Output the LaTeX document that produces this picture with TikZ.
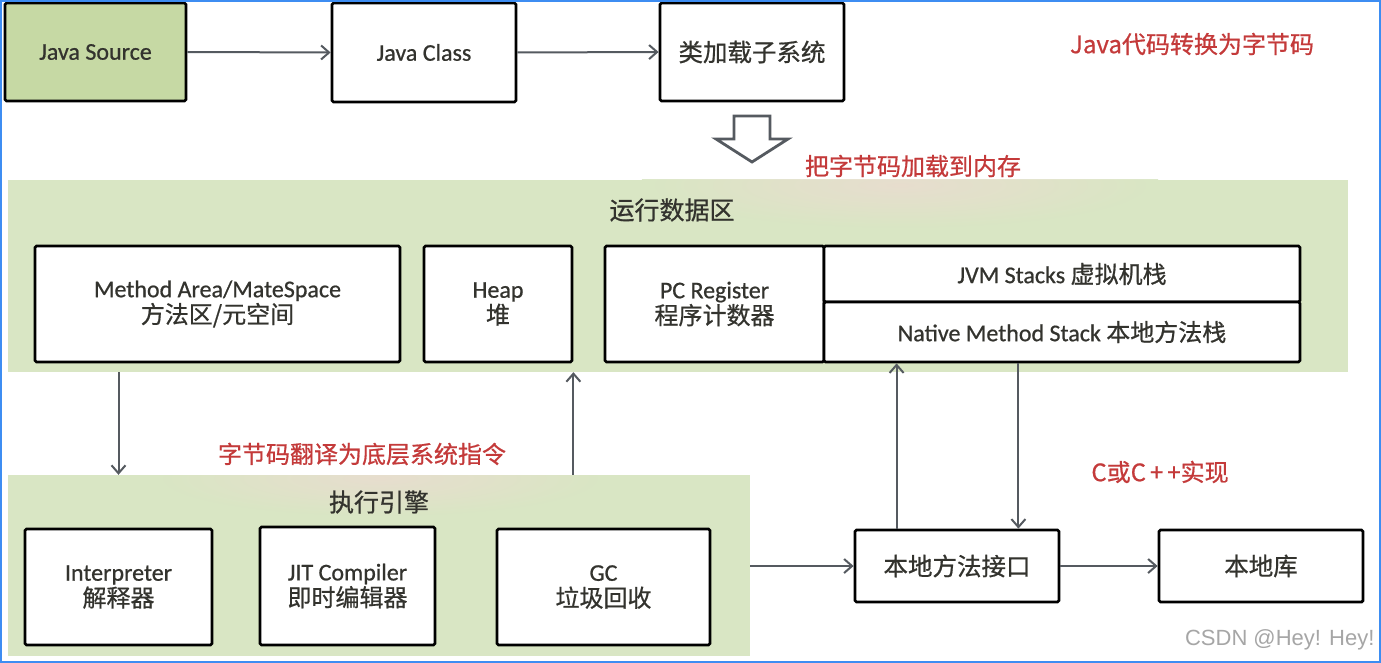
\documentclass[tikz,border=0pt]{standalone}
\usepackage{fontspec}
\setmainfont[FakeBold=0.7]{Carlito}
\newfontfamily\cjk[FakeBold=0.7]{Noto Sans CJK SC}
\newfontfamily\wmfont{Liberation Sans}
\newcommand\zh[1]{{\cjk #1}}
\usetikzlibrary{arrows.meta,calc}
\definecolor{panelgreen}{HTML}{D9E6C4}
\definecolor{panelblush}{HTML}{E9DDCF}
\definecolor{srcgreen}{HTML}{C6D9A4}
\definecolor{boxtext}{HTML}{33332E}
\definecolor{notered}{HTML}{C43A3A}
\definecolor{linkgray}{HTML}{555A60}
\definecolor{framblue}{HTML}{3D8DF2}
\tikzset{
  box/.style={draw=black, line width=2.8pt, rounded corners=1.5pt, fill=white,
    inner sep=0pt, align=center, text=boxtext, font=\fontsize{24}{27}\selectfont},
  panel/.style={fill=panelgreen, draw=none},
  paneltitle/.style={text=boxtext, font=\fontsize{25}{28}\selectfont\cjk},
  note/.style={text=notered, font=\fontsize{24}{28}\selectfont\cjk},
  link/.style={draw=linkgray, line width=2pt, -{Straight Barb[length=8pt,width=14pt,line width=2pt]}},
}
\begin{document}
\begin{tikzpicture}[x=1pt,y=-1pt]
\useasboundingbox (0,0) rectangle (1381,663);
\fill[white] (0,0) rectangle (1381,663);

% top row: source to class loader
\node[box, fill=srcgreen, minimum width=181, minimum height=98] (src) at (95.5,52) {Java Source};
\node[box, minimum width=184, minimum height=99] (cls) at (424,52.5) {Java Class};
\node[box, minimum width=184, minimum height=98, font=\fontsize{24.5}{28}\selectfont\cjk] (sub) at (752,52) {类加载子系统};
\draw[link] (src.east) -- (cls.west);
\draw[link] (cls.east) -- (sub.west);
\node[note] (n1) at (1192,44) {Java代码转换为字节码};

% hollow block arrow under the class loader
\draw[linkgray, line width=2.8pt, line join=miter, fill=white]
  (734,116) -- (770,116) -- (770,139) -- (788,139) -- (752,162) -- (716,139) -- (734,139) -- cycle;

% runtime data area, with a warm tint under the caption above it
\path[panel] (8,180) rectangle (1348,372);
\begin{scope}
  \clip (8,180) rectangle (1348,372);
  \shade[inner color=panelblush, outer color=panelgreen, opacity=0.9]
    (900,185) ellipse (260 and 45);
\end{scope}
\node[note] (n2) at (913,166) {把字节码加载到内存};
\node[minimum width=1340, minimum height=192, inner sep=0] (rt) at (678,276) {};
\node[paneltitle] (rtt) at (672,210) {运行数据区};
\node[box, minimum width=365, minimum height=116] (ma) at (217.5,304)
  {Method Area/MateSpace\\[-1pt]\zh{方法区/元空间}};
\node[box, minimum width=148, minimum height=116] (heap) at (498,304) {Heap\\[-1pt]\zh{堆}};
\node[box, minimum width=219, minimum height=116] (pc) at (714.5,304) {PC Register\\[-1pt]\zh{程序计数器}};
\node[box, minimum width=476, minimum height=56] (jvm) at (1062,274) {JVM Stacks \zh{虚拟机栈}};
\node[box, minimum width=476, minimum height=60] (nat) at (1062,332) {Native Method Stack \zh{本地方法栈}};

% execution engine
\path[panel] (8,475) rectangle (750,656);
\begin{scope}
  \clip (8,475) rectangle (750,656);
  \shade[inner color=panelblush, outer color=panelgreen, opacity=0.9]
    (380,478) ellipse (230 and 40);
\end{scope}
\node[minimum width=742, minimum height=181, inner sep=0] (ee) at (379,565.5) {};
\node[paneltitle] (eet) at (379,502) {执行引擎};
\node[box, minimum width=187, minimum height=116] (int) at (118.5,587) {Interpreter\\[-1pt]\zh{解释器}};
\node[box, minimum width=175, minimum height=118] (jit) at (347.5,586) {JIT Compiler\\[-1pt]\zh{即时编辑器}};
\node[box, minimum width=213, minimum height=116] (gc) at (603.5,587) {GC\\[-1pt]\zh{垃圾回收}};

\draw[link] (rt.south -| int.north) -- (ee.north -| int.north);
\draw[link] (ee.north -| heap.east) -- (rt.south -| heap.east);
\node[note] (n3) at (362,454) {字节码翻译为底层系统指令};

% native interface and library
\node[box, minimum width=204, minimum height=72, font=\fontsize{24.5}{28}\selectfont\cjk] (nmi) at (957,566) {本地方法接口};
\node[box, minimum width=204, minimum height=72, font=\fontsize{24.5}{28}\selectfont\cjk] (lib) at (1261,566) {本地库};
\draw[link] (nmi.west -| ee.east) -- (nmi.west);
\draw[link] (nmi.east) -- (lib.west);
\coordinate (upx) at ([xshift=43]nmi.north west);
\coordinate (dnx) at ([xshift=-42]nmi.north east);
\draw[link] (upx) -- (upx |- nat.south);
\draw[link] (dnx |- nat.south) -- (dnx);
\node[note] (n4) at (1160,472) {C或C\,+\,+实现};

\node[text=gray!70, font=\fontsize{22}{26}\selectfont\wmfont, anchor=east] (wm) at (1378,640) {CSDN @Hey! Hey!};

% outer frame
\draw[framblue, line width=2pt] (1,1) rectangle (1380,662);
\end{tikzpicture}
\end{document}
